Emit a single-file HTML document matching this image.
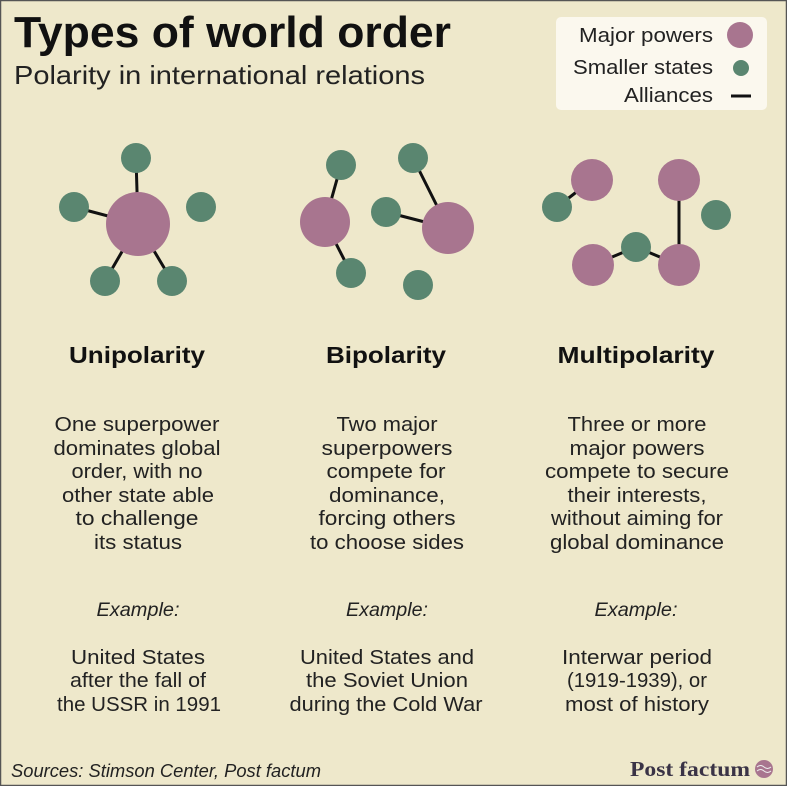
<!DOCTYPE html>
<html><head><meta charset="utf-8"><style>
html,body{margin:0;padding:0;background:#eee8cb;}
svg{display:block;font-family:"Liberation Sans",sans-serif;}
</style></head><body>
<svg width="787" height="786" viewBox="0 0 787 786" xmlns="http://www.w3.org/2000/svg">
<rect x="0.5" y="0.5" width="786" height="785" fill="#eee8cb" stroke="#555" stroke-width="1.5"/>
<text x="14" y="47" font-size="44" font-weight="bold" fill="#111" textLength="437" lengthAdjust="spacingAndGlyphs">Types of world order</text>
<text x="14" y="84" font-size="26" fill="#222" textLength="411" lengthAdjust="spacingAndGlyphs">Polarity in international relations</text>
<rect x="556" y="17" width="211" height="93" rx="5" fill="#fbf8ee"/>
<g font-size="20" fill="#222" text-anchor="end">
<text x="713" y="42" textLength="134" lengthAdjust="spacingAndGlyphs">Major powers</text>
<text x="713" y="74" textLength="140" lengthAdjust="spacingAndGlyphs">Smaller states</text>
<text x="713" y="102" textLength="89" lengthAdjust="spacingAndGlyphs">Alliances</text>
</g>
<circle cx="740" cy="35" r="13" fill="#a8758f"/>
<circle cx="741" cy="68" r="8" fill="#5a8670"/>
<line x1="731" y1="96" x2="751" y2="96" stroke="#111" stroke-width="3"/>
<g stroke="#111" stroke-width="3">
<line x1="138" y1="224" x2="136" y2="158"/><line x1="138" y1="224" x2="74" y2="207"/>
<line x1="138" y1="224" x2="105" y2="281"/><line x1="138" y1="224" x2="172" y2="281"/>
<line x1="325" y1="222" x2="341" y2="165"/><line x1="325" y1="222" x2="351" y2="273"/>
<line x1="448" y1="228" x2="413" y2="158"/><line x1="448" y1="228" x2="386" y2="212"/>
<line x1="592" y1="180" x2="557" y2="207"/><line x1="679" y1="180" x2="679" y2="265"/>
<line x1="593" y1="265" x2="636" y2="247"/><line x1="636" y1="247" x2="679" y2="265"/>
</g>
<g fill="#a8758f">
<circle cx="138" cy="224" r="32"/>
<circle cx="325" cy="222" r="25"/><circle cx="448" cy="228" r="26"/>
<circle cx="592" cy="180" r="21"/><circle cx="679" cy="180" r="21"/>
<circle cx="593" cy="265" r="21"/><circle cx="679" cy="265" r="21"/>
</g>
<g fill="#5a8670">
<circle cx="136" cy="158" r="15"/><circle cx="74" cy="207" r="15"/><circle cx="201" cy="207" r="15"/>
<circle cx="105" cy="281" r="15"/><circle cx="172" cy="281" r="15"/>
<circle cx="341" cy="165" r="15"/><circle cx="413" cy="158" r="15"/><circle cx="386" cy="212" r="15"/>
<circle cx="351" cy="273" r="15"/><circle cx="418" cy="285" r="15"/>
<circle cx="557" cy="207" r="15"/><circle cx="716" cy="215" r="15"/><circle cx="636" cy="247" r="15"/>
</g>
<g font-size="23" font-weight="bold" fill="#111" text-anchor="middle">
<text x="137" y="363" textLength="136" lengthAdjust="spacingAndGlyphs">Unipolarity</text>
<text x="386" y="363" textLength="120" lengthAdjust="spacingAndGlyphs">Bipolarity</text>
<text x="636" y="363" textLength="157" lengthAdjust="spacingAndGlyphs">Multipolarity</text>
</g>
<g font-size="20" fill="#222" text-anchor="middle">
<text x="137" y="431" textLength="165" lengthAdjust="spacingAndGlyphs">One superpower</text>
<text x="137" y="455" textLength="167" lengthAdjust="spacingAndGlyphs">dominates global</text>
<text x="137" y="478" textLength="131" lengthAdjust="spacingAndGlyphs">order, with no</text>
<text x="138" y="502" textLength="152" lengthAdjust="spacingAndGlyphs">other state able</text>
<text x="137" y="525" textLength="123" lengthAdjust="spacingAndGlyphs">to  challenge</text>
<text x="138" y="549" textLength="88" lengthAdjust="spacingAndGlyphs">its status</text>
<text x="387" y="431" textLength="101" lengthAdjust="spacingAndGlyphs">Two major</text>
<text x="387" y="455" textLength="131" lengthAdjust="spacingAndGlyphs">superpowers</text>
<text x="386" y="478" textLength="119" lengthAdjust="spacingAndGlyphs">compete for</text>
<text x="387" y="502" textLength="116" lengthAdjust="spacingAndGlyphs">dominance,</text>
<text x="387" y="525" textLength="137" lengthAdjust="spacingAndGlyphs">forcing others</text>
<text x="387" y="549" textLength="154" lengthAdjust="spacingAndGlyphs">to choose sides</text>
<text x="637" y="431" textLength="139" lengthAdjust="spacingAndGlyphs">Three or more</text>
<text x="637" y="455" textLength="135" lengthAdjust="spacingAndGlyphs">major powers</text>
<text x="637" y="478" textLength="184" lengthAdjust="spacingAndGlyphs">compete to secure</text>
<text x="637" y="502" textLength="139" lengthAdjust="spacingAndGlyphs">their interests,</text>
<text x="637" y="525" textLength="172" lengthAdjust="spacingAndGlyphs">without aiming for</text>
<text x="637" y="549" textLength="174" lengthAdjust="spacingAndGlyphs">global dominance</text>
</g>
<g font-size="19" font-style="italic" fill="#222" text-anchor="middle">
<text x="138" y="616" textLength="83" lengthAdjust="spacingAndGlyphs">Example:</text>
<text x="387" y="616" textLength="82" lengthAdjust="spacingAndGlyphs">Example:</text>
<text x="636" y="616" textLength="83" lengthAdjust="spacingAndGlyphs">Example:</text>
</g>
<g font-size="20" fill="#222" text-anchor="middle">
<text x="138" y="664" textLength="134" lengthAdjust="spacingAndGlyphs">United States</text>
<text x="138" y="687" textLength="136" lengthAdjust="spacingAndGlyphs">after the fall of</text>
<text x="139" y="711" textLength="164" lengthAdjust="spacingAndGlyphs">the USSR in 1991</text>
<text x="387" y="664" textLength="174" lengthAdjust="spacingAndGlyphs">United States and</text>
<text x="387" y="687" textLength="162" lengthAdjust="spacingAndGlyphs">the  Soviet Union</text>
<text x="386" y="711" textLength="193" lengthAdjust="spacingAndGlyphs">during the Cold War</text>
<text x="637" y="664" textLength="150" lengthAdjust="spacingAndGlyphs">Interwar period</text>
<text x="637" y="687" textLength="140" lengthAdjust="spacingAndGlyphs">(1919-1939), or</text>
<text x="637" y="711" textLength="144" lengthAdjust="spacingAndGlyphs">most of history</text>
</g>
<text x="11" y="777" font-size="18" font-style="italic" fill="#222" textLength="310" lengthAdjust="spacingAndGlyphs">Sources: Stimson Center, Post factum</text>
<text x="630" y="776" font-family="Liberation Serif,serif" font-size="21" font-weight="bold" fill="#3a3346" textLength="120" lengthAdjust="spacingAndGlyphs">Post factum</text>
<circle cx="764" cy="769" r="9" fill="#a8758f"/>
<path d="M757 767 q3.5 -3 7 0 t7 0 M757 771 q3.5 -3 7 0 t7 0" stroke="#eee" stroke-width="1" fill="none"/>
</svg>
</body></html>
